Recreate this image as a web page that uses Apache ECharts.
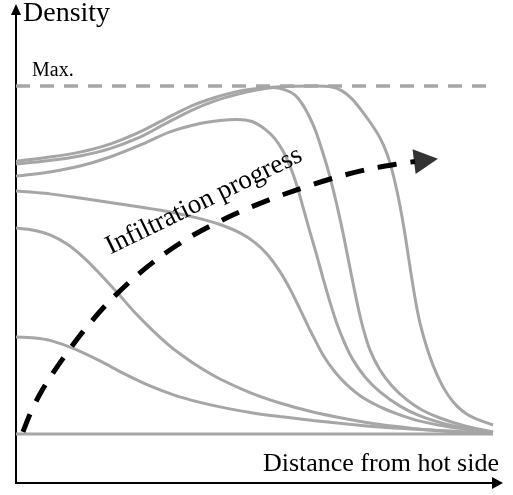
<!DOCTYPE html>
<html><head><meta charset="utf-8">
<script src="https://cdn.jsdelivr.net/npm/echarts@6/dist/echarts.min.js"></script>
<style>html,body{margin:0;padding:0;background:#fff}#c{width:513px;height:495px}</style>
</head><body><div id="c"></div>
<script>
// x: distance from hot side (0..100), y: relative density (1 = Max.)
const curve1 = [[0,0.784],[7.06,0.796],[13.29,0.810],[19.52,0.833],[25.75,0.868],[30.94,0.905],[36.14,0.941],[41.33,0.967],[46.52,0.986],[51.30,0.994],[56.90,0.999],[62.10,1.0],[65.63,0.997],[67.71,0.986],[69.78,0.963],[71.86,0.928],[73.94,0.888],[75.60,0.851],[77.05,0.805],[78.30,0.747],[79.34,0.684],[80.17,0.624],[81.00,0.555],[81.83,0.480],[82.66,0.408],[83.49,0.345],[84.32,0.296],[85.36,0.247],[86.60,0.198],[88.06,0.152],[89.72,0.112],[91.59,0.080],[93.67,0.057],[96.37,0.039],[99.07,0.026]];
const curve2 = [[0,0.776],[7.06,0.786],[13.29,0.799],[19.52,0.820],[25.75,0.853],[30.94,0.891],[36.14,0.928],[41.33,0.957],[46.52,0.978],[50.26,0.989],[53.38,0.996],[55.87,0.989],[57.94,0.974],[59.60,0.945],[61.06,0.908],[62.31,0.868],[63.55,0.816],[64.80,0.759],[65.84,0.704],[66.87,0.644],[67.91,0.578],[68.95,0.506],[69.99,0.434],[71.03,0.365],[72.07,0.305],[73.52,0.241],[75.60,0.184],[78.09,0.138],[81.20,0.098],[84.32,0.069],[88.06,0.046],[93.25,0.023],[99.07,0.006]];
const curve3 = [[0,0.741],[7.06,0.753],[13.29,0.770],[19.52,0.796],[25.75,0.830],[31.98,0.868],[38.21,0.892],[42.37,0.901],[45.90,0.904],[49.01,0.898],[51.71,0.876],[53.79,0.848],[55.45,0.813],[56.90,0.770],[58.36,0.713],[59.60,0.652],[61.06,0.580],[62.51,0.511],[63.76,0.448],[65.21,0.379],[66.67,0.316],[68.33,0.259],[69.99,0.213],[72.48,0.164],[75.60,0.121],[79.75,0.080],[83.90,0.052],[89.10,0.029],[94.29,0.014],[99.07,0.006]];
const curve4 = [[0,0.698],[7.06,0.690],[13.29,0.678],[19.52,0.665],[25.75,0.652],[31.98,0.638],[38.21,0.619],[42.37,0.602],[46.52,0.578],[49.64,0.550],[52.13,0.517],[54.62,0.471],[56.90,0.417],[58.98,0.359],[61.27,0.293],[63.76,0.227],[66.25,0.178],[68.74,0.141],[71.86,0.106],[75.60,0.078],[79.75,0.055],[83.90,0.037],[90.13,0.020],[99.07,0.004]];
const curve5 = [[0,0.592],[3.95,0.585],[7.06,0.572],[10.59,0.546],[13.91,0.509],[17.45,0.460],[20.98,0.407],[24.30,0.355],[27.83,0.305],[31.36,0.260],[34.68,0.224],[38.21,0.191],[42.37,0.158],[48.60,0.119],[54.83,0.089],[61.68,0.063],[68.74,0.043],[75.60,0.027],[82.45,0.016],[90.13,0.007],[99.07,0.001]];
const curve6 = [[0,0.279],[3.95,0.276],[7.06,0.269],[12.25,0.244],[17.45,0.210],[22.64,0.172],[27.83,0.138],[33.02,0.111],[38.21,0.091],[42.37,0.078],[48.60,0.062],[54.83,0.050],[61.68,0.039],[68.74,0.029],[75.60,0.020],[83.90,0.013],[92.21,0.007],[99.07,0.004]];
const curve7 = [[0,0],[99.07,0]];
const maxLevel = [[0,1],[99.07,1]];
const progressPath = [[1.45,0.006],[2.91,0.057],[4.98,0.115],[7.06,0.162],[9.55,0.213],[13.91,0.294],[18.90,0.374],[24.71,0.451],[30.53,0.515],[36.76,0.571],[44.03,0.623],[51.09,0.665],[58.15,0.701],[65.84,0.735],[72.90,0.760],[79.75,0.777],[82.87,0.783]];
const progressHead = [[85.15,0.787]];
const texts = {y:'Density', x:'Distance from hot side', max:'Max.', progress:'Infiltration progress'};

const gray = '#a6a6a6';
const serif = "'Times New Roman','Liberation Serif',serif";
function curve(name, data){
  return {name, type:'line', data, smooth:0.25, symbol:'none', showSymbol:false,
    lineStyle:{color:gray, width:3}, silent:true, z:2};
}
const chart = echarts.init(document.getElementById('c'));
chart.setOption({
  animation:false,
  grid:{left:16, right:15.5, top:9.5, bottom:12},
  xAxis:{type:'value', min:0, max:100,
    axisLine:{show:true, onZero:false, lineStyle:{color:'#000', width:2}, symbol:['none','triangle'], symbolSize:[12,11]},
    axisTick:{show:false}, axisLabel:{show:false}, splitLine:{show:false}},
  yAxis:{type:'value', min:-0.1408, max:1.2198,
    axisLine:{show:true, onZero:false, lineStyle:{color:'#000', width:2}, symbol:['none','triangle'], symbolSize:[10,11]},
    axisTick:{show:false}, axisLabel:{show:false}, splitLine:{show:false}},
  series:[
    {name:'Max.', type:'line', data:maxLevel, symbol:'none', lineStyle:{color:gray, width:3.5, type:[14,10]}, silent:true, z:1},
    curve('c1', curve1), curve('c2', curve2), curve('c3', curve3), curve('c4', curve4),
    curve('c5', curve5), curve('c6', curve6), curve('c7', curve7),
    {name:'progress', type:'line', data:progressPath, smooth:0.3, symbol:'none',
      lineStyle:{color:'#000', width:5, type:[19,14], cap:'butt'}, silent:true, z:5},
    {name:'progressHead', type:'scatter', data:progressHead, symbol:'triangle', symbolSize:[25,24], symbolRotate:-83,
      itemStyle:{color:'#000'}, silent:true, z:6}
  ],
  graphic:[
    {type:'text', x:23, y:13.5, style:{text:texts.y, fontSize:28, fontFamily:serif, fill:'#000', align:'left', verticalAlign:'middle', textAlign:'left', textVerticalAlign:'middle'}},
    {type:'text', x:32, y:70.3, style:{text:texts.max, fontSize:20, fontFamily:serif, fill:'#000', align:'left', verticalAlign:'middle', textAlign:'left', textVerticalAlign:'middle'}},
    {type:'text', x:499, y:464.2, style:{text:texts.x, fontSize:26, fontFamily:serif, fill:'#000', align:'right', verticalAlign:'middle', textAlign:'right', textVerticalAlign:'middle'}},
    {type:'text', x:204, y:201, rotation:26*Math.PI/180, z:10, style:{text:texts.progress, fontSize:27, fontFamily:serif, fill:'#000', align:'center', verticalAlign:'middle', textAlign:'center', textVerticalAlign:'middle'}}
  ]
});
</script></body></html>
